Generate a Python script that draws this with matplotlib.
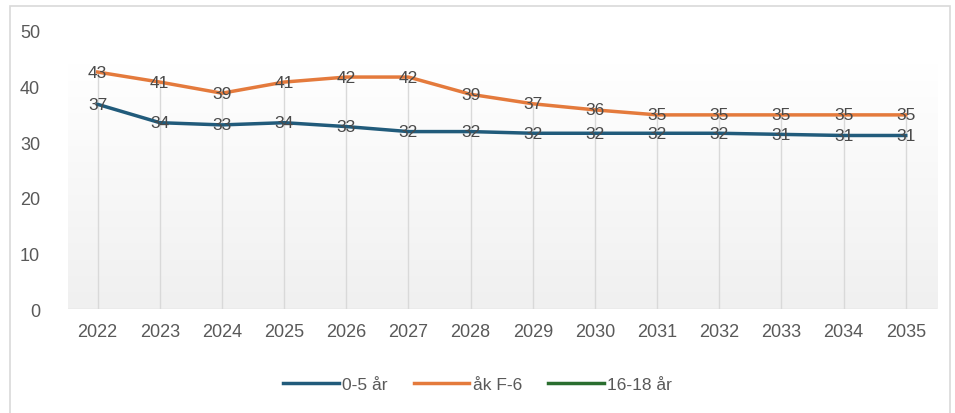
import numpy as np
import matplotlib.pyplot as plt
from matplotlib.patches import Rectangle

years = ['2022', '2023', '2024', '2025', '2026', '2027', '2028',
         '2029', '2030', '2031', '2032', '2033', '2034', '2035']
ages_0_5 = [36.8, 33.5, 33.1, 33.5, 32.8, 31.9, 31.9, 31.6, 31.6, 31.6, 31.6, 31.4, 31.2, 31.2]
ak_f6 = [42.6, 40.8, 38.8, 40.8, 41.7, 41.7, 38.6, 36.9, 35.8, 34.9, 34.9, 34.9, 34.9, 34.9]
ages_16_18 = []  # ingen data i diagrammet

series_names = ['0-5 år', 'åk F-6', '16-18 år']
colors = ['#215b7b', '#e47a3c', '#2a6e2f']

plt.rcParams['font.family'] = ['Liberation Sans', 'DejaVu Sans']

fig = plt.figure(figsize=(9.55, 4.14), dpi=100)
fig.patches.append(Rectangle((10 / 955, -0.01), 0.995 - 10 / 955, 1 - 7 / 414 + 0.01,
                             transform=fig.transFigure, fill=False,
                             edgecolor='#d9d9d9', linewidth=1.2))
ax = fig.add_axes([0.071, 0.251, 0.91, 0.672])

x = np.arange(len(years))

# gradient bakgrund
grad = np.linspace(0, 1, 256).reshape(-1, 1)
ax.imshow(grad, extent=[0, 1, 0, 0.88], transform=ax.transAxes, aspect='auto',
          cmap=plt.matplotlib.colors.LinearSegmentedColormap.from_list('g', ['#f0f0f0', '#ffffff']),
          origin='lower', zorder=0)

ax.vlines(x, 0, np.maximum(ages_0_5, ak_f6), color='#d9d9d9', linewidth=1, zorder=1)
ax.axhline(0, color='#d9d9d9', linewidth=1, zorder=1)

ax.plot(x, ages_0_5, color=colors[0], linewidth=2.5, label=series_names[0], zorder=3)
ax.plot(x, ak_f6, color=colors[1], linewidth=2.5, label=series_names[1], zorder=3)
ax.plot([], [], color=colors[2], linewidth=2.5, label=series_names[2])

for xi, v in zip(x, ages_0_5):
    ax.text(xi, v, f'{np.round(v):.0f}', ha='center', va='center', fontsize=12.5, color='#4a4a4a', zorder=4)
for xi, v in zip(x, ak_f6):
    ax.text(xi, v, f'{np.round(v):.0f}', ha='center', va='center', fontsize=12.5, color='#4a4a4a', zorder=4)

ax.set_xlim(-0.48, 13.5)
ax.set_ylim(0, 50)
ax.set_yticks([0, 10, 20, 30, 40, 50])
ax.set_xticks(x)
ax.set_xticklabels(years)
ax.tick_params(length=0, labelsize=13, colors='#595959')
ax.tick_params(axis='x', pad=10)
ax.tick_params(axis='y', pad=20)
for s in ax.spines.values():
    s.set_visible(False)

leg = fig.legend(loc='center', bbox_to_anchor=(0.5, 1 - 385 / 414), ncol=3, frameon=False,
                 fontsize=12.5, handlelength=3.2, handletextpad=0.2, columnspacing=1.5)
for t in leg.get_texts():
    t.set_color('#595959')

fig.savefig('out.png', dpi=100)
